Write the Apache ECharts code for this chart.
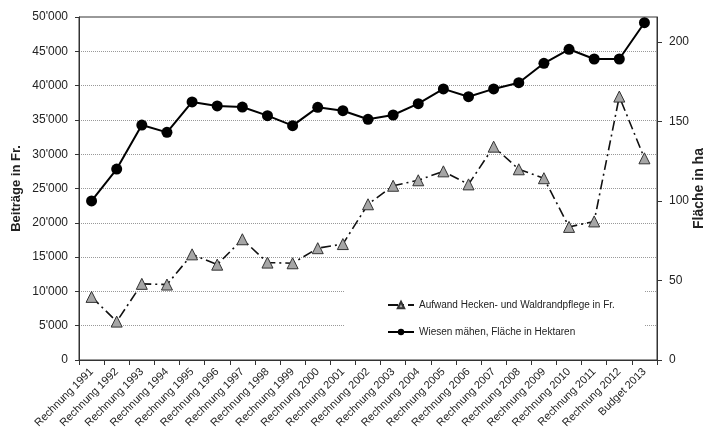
<!DOCTYPE html>
<html>
<head>
<meta charset="utf-8">
<script src="https://cdn.jsdelivr.net/npm/echarts@6/dist/echarts.min.js"></script>
<style>
html,body{margin:0;padding:0;background:#fff;}
#c{width:704px;height:437px;}
</style>
</head>
<body>
<div id="c"></div>
<script>
const categories = ['Rechnung 1991','Rechnung 1992','Rechnung 1993','Rechnung 1994','Rechnung 1995','Rechnung 1996','Rechnung 1997','Rechnung 1998','Rechnung 1999','Rechnung 2000','Rechnung 2001','Rechnung 2002','Rechnung 2003','Rechnung 2004','Rechnung 2005','Rechnung 2006','Rechnung 2007','Rechnung 2008','Rechnung 2009','Rechnung 2010','Rechnung 2011','Rechnung 2012','Budget 2013'];
const aufwandFr = [9200,5600,11100,11000,15400,13900,17600,14200,14100,16300,16900,22700,25400,26200,27500,25600,31100,27800,26500,19400,20200,38400,29400];
const flaecheHa = [100,120,147.7,143.1,162.2,159.7,159.0,153.6,147.3,158.8,156.7,151.3,154.0,161.1,170.4,165.5,170.4,174.3,186.5,195.3,189.2,189.2,212.0];
const seriesNames = ['Aufwand Hecken- und Waldrandpflege in Fr.','Wiesen mähen, Fläche in Hektaren'];
const axisNames = ['Beiträge in Fr.','Fläche in ha'];

const font = 'Arial, "Liberation Sans", sans-serif';
const chart = echarts.init(document.getElementById('c'));
function fmtFr(v){ return String(v).replace(/\B(?=(\d{3})+(?!\d))/g, "'"); }

chart.setOption({
  animation:false,
  backgroundColor:'#fff',
  textStyle:{fontFamily:font},
  grid:{left:79,right:47,top:17,bottom:77,containLabel:false,outerBoundsMode:'none',
        show:true,borderColor:'#333',borderWidth:1,backgroundColor:'transparent'},
  legend:{
    orient:'vertical', left:345, top:275,
    padding:[25,30,12,42], itemGap:17,
    backgroundColor:'#fff',
    itemWidth:26, itemHeight:8,
    textStyle:{fontSize:10,color:'#222',fontFamily:font},
    data:seriesNames
  },
  xAxis:{
    type:'category', data:categories, boundaryGap:true,
    axisLine:{lineStyle:{color:'#333',width:1}},
    axisTick:{show:true,interval:0,length:5,lineStyle:{color:'#333'}},
    axisLabel:{interval:0,rotate:45,fontSize:11,color:'#222',margin:10,fontFamily:font},
    splitLine:{show:false}
  },
  yAxis:[{
    type:'value', min:0, max:50000, interval:5000, position:'left',
    name:axisNames[0], nameLocation:'middle', nameRotate:90, nameGap:56, nameMoveOverlap:false,
    nameTextStyle:{fontSize:13,fontWeight:'bold',color:'#222',fontFamily:font},
    axisLine:{show:true,lineStyle:{color:'#333'}},
    axisTick:{show:true,length:4,lineStyle:{color:'#333'}},
    axisLabel:{fontSize:12,color:'#222',margin:11,formatter:fmtFr,fontFamily:font},
    splitLine:{show:true,lineStyle:{color:'#999',width:1,type:[1,1]}}
  },{
    type:'value', min:0, max:215.6, interval:50, position:'right',
    name:axisNames[1], nameLocation:'middle', nameRotate:90, nameGap:35, nameMoveOverlap:false,
    nameTextStyle:{fontSize:14,fontWeight:'bold',color:'#222',fontFamily:font},
    axisLine:{show:true,lineStyle:{color:'#333'}},
    axisTick:{show:true,length:5,lineStyle:{color:'#333'}},
    axisLabel:{fontSize:12,color:'#222',margin:12,showMaxLabel:false,fontFamily:font,
      formatter:function(v){ return (v % 50 === 0) ? String(v) : ''; }},
    splitLine:{show:false}
  }],
  series:[{
    name:seriesNames[0], type:'line', yAxisIndex:0, data:aufwandFr,
    symbol:'triangle', symbolSize:11,
    itemStyle:{color:'#a6a6a6',borderColor:'#333',borderWidth:1},
    lineStyle:{color:'#111',width:1.6,type:[10,4,2,4]},
    z:3
  },{
    name:seriesNames[1], type:'line', yAxisIndex:1, data:flaecheHa,
    symbol:'circle', symbolSize:11,
    itemStyle:{color:'#000',borderColor:'#000',borderWidth:0},
    lineStyle:{color:'#000',width:2},
    z:4
  }]
});
</script>
</body>
</html>
